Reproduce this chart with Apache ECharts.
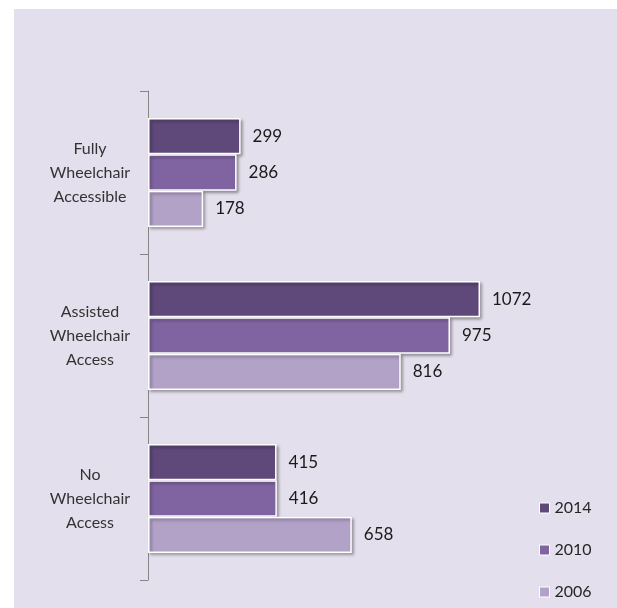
<!DOCTYPE html>
<html>
<head>
<meta charset="utf-8">
<style>
  html, body { margin: 0; padding: 0; background: #ffffff; }
  #chart { width: 617px; height: 608px; }
</style>
<script src="https://cdn.jsdelivr.net/npm/echarts@6/dist/echarts.min.js"></script>
</head>
<body>
<div id="chart"></div>
<script>
// Wheelchair accessibility counts by survey year
const categories = ['Fully\nWheelchair\nAccessible', 'Assisted\nWheelchair\nAccess', 'No\nWheelchair\nAccess'];
const years = ['2014', '2010', '2006'];
const values2014 = [299, 1072, 415];
const values2010 = [286, 975, 416];
const values2006 = [178, 816, 658];
const seriesValues = [values2014, values2010, values2006];
const colors = ['#5f497a', '#8064a2', '#b3a2c7'];

const font = 'Lato, "Open Sans", sans-serif';

const chart = echarts.init(document.getElementById('chart'), null, { renderer: 'canvas' });

chart.setOption({
  backgroundColor: '#ffffff',
  animation: false,
  textStyle: { fontFamily: font },
  graphic: [{
    type: 'rect',
    z: -10,
    silent: true,
    shape: { x: 14, y: 9, width: 603, height: 599 },
    style: { fill: '#e4dfec' }
  }],
  grid: { left: 148, top: 91, bottom: 28, right: 35.4 },
  xAxis: {
    type: 'value',
    min: 0,
    max: 1400,
    show: false
  },
  yAxis: {
    type: 'category',
    inverse: true,
    data: categories,
    axisLine: { show: true, lineStyle: { color: '#868686', width: 1 } },
    axisTick: { show: true, inside: false, length: 8, lineStyle: { color: '#868686', width: 1 } },
    axisLabel: {
      align: 'center',
      margin: 58,
      fontSize: 16,
      lineHeight: 24,
      color: '#333333',
      fontFamily: font
    }
  },
  legend: {
    orient: 'vertical',
    left: 534,
    top: 495,
    itemWidth: 10,
    itemHeight: 10,
    itemGap: 26,
    icon: 'rect',
    data: years,
    itemStyle: { shadowBlur: 0, shadowOffsetX: 0, shadowOffsetY: 0, borderColor: '#ffffff', borderWidth: 1 },
    textStyle: { fontSize: 16, lineHeight: 16, color: '#262626', fontFamily: font, padding: [0, 0, 0, 0] }
  },
  series: years.map((y, i) => ({
    name: y,
    type: 'bar',
    data: seriesValues[i],
    barGap: '0%',
    barCategoryGap: '33%',
    itemStyle: {
      color: colors[i],
      borderColor: '#ffffff',
      borderWidth: 1.5,
      shadowColor: 'rgba(0,0,0,0.35)',
      shadowBlur: 3,
      shadowOffsetX: 2,
      shadowOffsetY: 2
    },
    label: {
      show: true,
      position: 'right',
      distance: 12,
      fontSize: 17,
      color: '#1a1a1a',
      fontFamily: font
    }
  }))
});
</script>
</body>
</html>
